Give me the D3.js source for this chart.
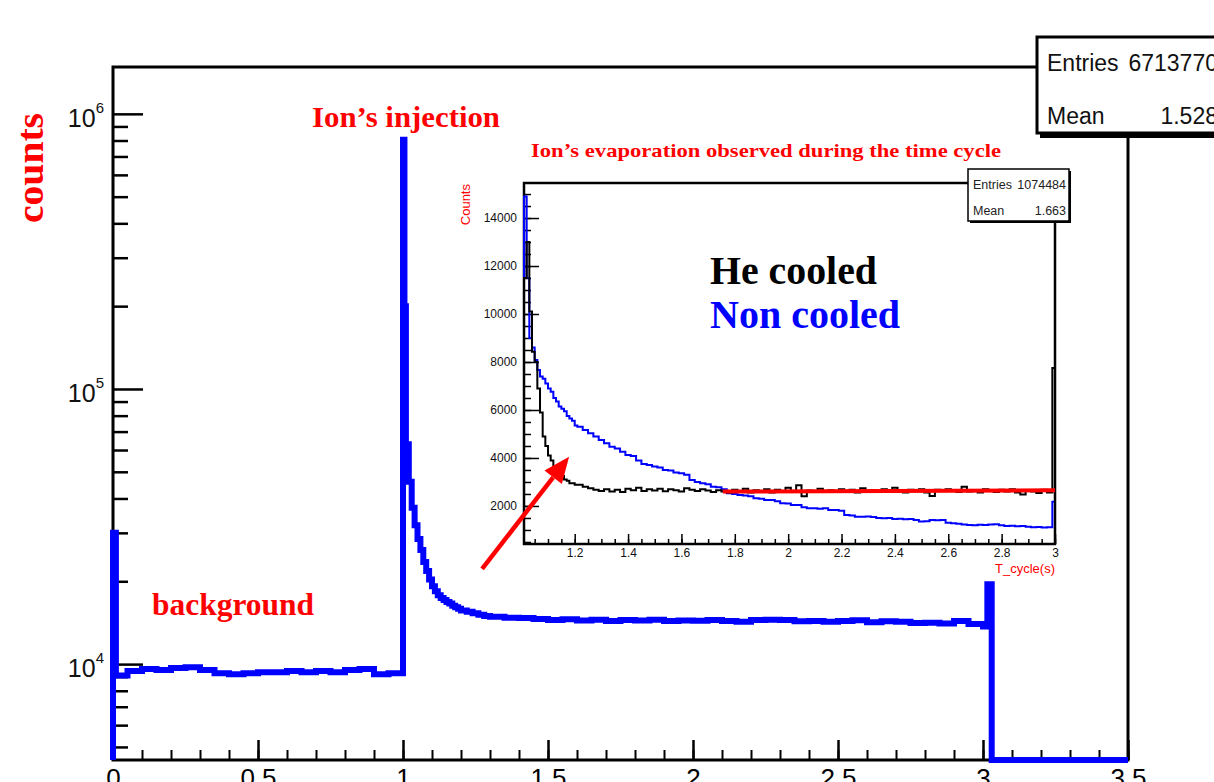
<!DOCTYPE html>
<html>
<head>
<meta charset="utf-8">
<script src="https://cdn.jsdelivr.net/npm/d3@7/dist/d3.min.js"></script>
<style>
  body { margin: 0; background: #fff; }
  text { font-family: "Liberation Sans", Arial, sans-serif; }
  .serif { font-family: "Liberation Serif", "Times New Roman", serif; font-weight: bold; }
</style>
</head>
<body>
<div id="chart"></div>
<script>

// ---- main histogram (counts vs time, log y) : bin low edges + counts ----
const mainEdges = [0, 0.01, 0.05, 0.10, 0.15, 0.20, 0.25, 0.30, 0.35, 0.40, 0.45,
    0.50, 0.55, 0.60, 0.65, 0.70, 0.75, 0.80, 0.85, 0.90, 0.95,
    1.000, 1.005, 1.010, 1.020, 1.030, 1.040, 1.050, 1.060, 1.070, 1.080, 1.090,
    1.100, 1.110, 1.120, 1.130, 1.140, 1.150, 1.160, 1.170, 1.180, 1.190,
    1.20, 1.22, 1.24, 1.26, 1.28,
    1.30, 1.35, 1.40, 1.45, 1.50, 1.55, 1.60, 1.65, 1.70, 1.75, 1.80, 1.85, 1.90, 1.95,
    2.00, 2.05, 2.10, 2.15, 2.20, 2.25, 2.30, 2.35, 2.40, 2.45, 2.50, 2.55, 2.60, 2.65,
    2.70, 2.75, 2.80, 2.85, 2.90, 2.95,
    3.000, 3.015, 3.030, 3.5];
const mainCounts = [30000, 9100, 9430, 9590, 9510, 9670, 9750, 9510, 9270, 9190, 9270,
    9350, 9350, 9430, 9350, 9430, 9350, 9510, 9590, 9190, 9270,
    805000, 200000, 63000, 46000, 37000, 32000, 28500, 26000, 23500, 21800, 20300,
    19200, 18400, 17800, 17400, 17100, 16800, 16600, 16300, 16100, 15900,
    15650, 15500, 15300, 15100, 14950,
    14850, 14750, 14700, 14600, 14450, 14550, 14400, 14500, 14350, 14450, 14400, 14500, 14350, 14400,
    14380, 14450, 14350, 14250, 14450, 14500, 14480, 14300, 14350, 14250, 14350, 14420, 14200, 14300,
    14250, 14100, 14150, 14050, 14350, 14000,
    13700, 19500, 0];

const mainXTicks = [0, 0.5, 1, 1.5, 2, 2.5, 3, 3.5];
const mainYDecades = [1e4, 1e5, 1e6];
const mainYMinor = [5000, 6000, 7000, 8000, 9000, 2e4, 3e4, 4e4, 5e4, 6e4, 7e4, 8e4, 9e4,
    2e5, 3e5, 4e5, 5e5, 6e5, 7e5, 8e5, 9e5];

// ---- inset: He cooled (black) / Non cooled (blue) ----
const insetEdges = [...d3.range(101, 121).map(i => i / 100),
                    ...d3.range(0, 89).map(i => (121 + 2 * i) / 100), 2.99, 3.00];
const heCooled = [11500, 13000, 10100, 8430, 8000, 6900, 5900, 4900, 4500, 4100,
    3900, 3450, 3350, 3280, 3250, 3100, 3050, 2950, 2950, 2880,
    2880, 2800, 2740, 2680, 2620, 2700, 2600, 2680, 2580, 2720,
    2650, 2760, 2620, 2700, 2640, 2720, 2610, 2700, 2660, 2600,
    2740, 2680, 2620, 2700, 2640, 2580, 2660, 2600, 2560, 2680,
    2600, 2720, 2560, 2650, 2600, 2700, 2560, 2680, 2620, 2760,
    2580, 2860, 2400, 2640, 2600, 2720, 2580, 2660, 2600, 2700,
    2620, 2680, 2560, 2740, 2600, 2660, 2580, 2700, 2620, 2760,
    2600, 2560, 2680, 2620, 2700, 2560, 2420, 2680, 2620, 2700,
    2640, 2580, 2800, 2600, 2660, 2560, 2700, 2620, 2580, 2680,
    2600, 2700, 2560, 2480, 2660, 2600, 2540, 2680, 2560,
    7750];
const nonCooled = [14900, 11500, 9000, 8600, 8080, 7670, 7400, 7300, 7100, 6900,
    6760, 6500, 6350, 6150, 6050, 5950, 5750, 5650, 5550, 5350,
    5300, 5170, 5030, 4900, 4750, 4610, 4470, 4400, 4260, 4125,
    4080, 3900, 3750, 3710, 3650, 3600, 3500, 3480, 3400, 3360,
    3300, 3080, 3000, 2945, 2900, 2800, 2780, 2700, 2530, 2500,
    2460, 2440, 2400, 2320, 2300, 2250, 2250, 2200, 2110, 2100,
    2040, 2040, 1950, 1900, 1900, 1880, 1900, 1830, 1830, 1800,
    1625, 1600, 1555, 1555, 1560, 1540, 1500, 1490, 1500, 1460,
    1470, 1450, 1460, 1420, 1350, 1360, 1420, 1400, 1420, 1300,
    1280, 1260, 1230, 1210, 1200, 1220, 1210, 1230, 1240, 1200,
    1170, 1180, 1150, 1170, 1130, 1110, 1120, 1100, 1110,
    2180];
const fitX = [1.755, 3.0];
const fitY = [2600, 2650];
const arrowFrom = [0.853, -620];
const arrowTo = [1.179, 4050];

const insetXMajor = d3.range(6, 16).map(i => i / 5);          // 1.2 .. 3
const insetXMinor = d3.range(21, 61).map(i => i / 20);         // every 0.05
const insetYMajor = [2000, 4000, 6000, 8000, 10000, 12000, 14000];
const insetYMinor = d3.range(1, 31).map(i => i * 500);

// ---------------------------------------------------------------
const W = 1214, H = 782;
const svg = d3.select("#chart").append("svg").attr("width", W).attr("height", H);

const x = d3.scaleLinear().domain([0, 3.5]).range([113, 1128]);
const y = d3.scaleLog().domain([4482, 1.48e6]).range([760, 67]);
const yMin = y.domain()[0];

function histPoints(edges, counts, floor) {
    let pts = [[edges[0], floor]];
    for (let i = 0; i < counts.length; i++) {
        pts.push([edges[i], counts[i]]);
        pts.push([edges[i + 1], counts[i]]);
    }
    pts.push([edges[counts.length], floor]);
    return pts;
}

// frame
svg.append("rect")
   .attr("x", x(0)).attr("y", y.range()[1])
   .attr("width", x(3.5) - x(0)).attr("height", y.range()[0] - y.range()[1])
   .attr("fill", "none").attr("stroke", "black").attr("stroke-width", 3);

// axes
function styleTicks(g, w) {
    g.select(".domain").remove();
    g.selectAll(".tick line").attr("stroke", "black").attr("stroke-width", w);
}
svg.append("g").attr("transform", `translate(${x(0)},0)`)
   .call(d3.axisLeft(y).tickValues(mainYDecades).tickSize(-30).tickFormat(""))
   .call(g => styleTicks(g, 2.5));
svg.append("g").attr("transform", `translate(${x(0)},0)`)
   .call(d3.axisLeft(y).tickValues(mainYMinor).tickSize(-15).tickFormat(""))
   .call(g => styleTicks(g, 2.5));
svg.append("g").attr("transform", `translate(0,${y.range()[0]})`)
   .call(d3.axisBottom(x).tickValues(d3.range(0, 36).map(i => i / 10)).tickSize(-10).tickFormat(""))
   .call(g => styleTicks(g, 2));
svg.append("g").attr("transform", `translate(0,${y.range()[0]})`)
   .call(d3.axisBottom(x).tickValues(mainXTicks).tickSize(-20).tickPadding(9).tickFormat(d3.format("~g")))
   .call(g => styleTicks(g, 2.5))
   .call(g => g.selectAll("text").attr("fill", "black").style("font-size", "26px")
                .style("font-family", "Liberation Sans, Arial, sans-serif"));

// log labels 10^n
mainYDecades.forEach(v => {
    let t = svg.append("text").attr("x", 104).attr("y", y(v) + 13)
               .attr("text-anchor", "end").style("font-size", "25px").attr("fill", "#111");
    t.append("tspan").text("10");
    t.append("tspan").text(Math.round(Math.log10(v))).attr("dy", -14).style("font-size", "15px");
});

// main histogram
const mainLine = d3.line().x(d => x(d[0])).y(d => y(Math.max(d[1], yMin)));
svg.append("path")
   .attr("d", mainLine(histPoints(mainEdges, mainCounts, yMin)))
   .attr("fill", "none").attr("stroke", "#0000ff").attr("stroke-width", 6)
   .attr("stroke-linejoin", "miter");

// main stats box
svg.append("rect").attr("x", 1040).attr("y", 40).attr("width", 200).attr("height", 98).attr("fill", "black");
svg.append("rect").attr("x", 1037).attr("y", 37).attr("width", 200).attr("height", 96)
   .attr("fill", "white").attr("stroke", "black").attr("stroke-width", 3);
svg.append("text").attr("x", 1047).attr("y", 71).style("font-size", "23px").attr("fill", "#111").text("Entries");
svg.append("text").attr("x", 1218).attr("y", 71).attr("text-anchor", "end").style("font-size", "23px").attr("fill", "#111").text("6713770");
svg.append("text").attr("x", 1047).attr("y", 124).style("font-size", "23px").attr("fill", "#111").text("Mean");
svg.append("text").attr("x", 1218).attr("y", 124).attr("text-anchor", "end").style("font-size", "23px").attr("fill", "#111").text("1.528");

// ---- inset ----
const xi = d3.scaleLinear().domain([1.01, 3.0]).range([524, 1055]);
const yi = d3.scaleLinear().domain([415, 15460]).range([544, 183]);

svg.append("rect")
   .attr("x", xi.range()[0]).attr("y", yi.range()[1])
   .attr("width", xi.range()[1] - xi.range()[0]).attr("height", yi.range()[0] - yi.range()[1])
   .attr("fill", "white").attr("stroke", "black").attr("stroke-width", 2.5);

svg.append("g").attr("transform", `translate(${xi.range()[0]},0)`)
   .call(d3.axisLeft(yi).tickValues(insetYMinor).tickSize(-7).tickFormat(""))
   .call(g => styleTicks(g, 1.5));
svg.append("g").attr("transform", `translate(${xi.range()[0]},0)`)
   .call(d3.axisLeft(yi).tickValues(insetYMajor).tickSize(-15).tickPadding(7).tickFormat(d3.format("d")))
   .call(g => styleTicks(g, 1.5))
   .call(g => g.selectAll("text").attr("fill", "#111").style("font-size", "12px")
                .style("font-family", "Liberation Sans, Arial, sans-serif"));
svg.append("g").attr("transform", `translate(0,${yi.range()[0]})`)
   .call(d3.axisBottom(xi).tickValues(insetXMinor).tickSize(-5).tickFormat(""))
   .call(g => styleTicks(g, 1.5));
svg.append("g").attr("transform", `translate(0,${yi.range()[0]})`)
   .call(d3.axisBottom(xi).tickValues(insetXMajor).tickSize(-10).tickPadding(4).tickFormat(d3.format("~g")))
   .call(g => styleTicks(g, 1.5))
   .call(g => g.selectAll("text").attr("fill", "#111").style("font-size", "12px")
                .style("font-family", "Liberation Sans, Arial, sans-serif"));

const insetLine = d3.line().x(d => xi(d[0])).y(d => yi(Math.max(d[1], yi.domain()[0])));
svg.append("path").attr("d", insetLine(histPoints(insetEdges, nonCooled, 415)))
   .attr("fill", "none").attr("stroke", "#0000ff").attr("stroke-width", 2);
svg.append("path").attr("d", insetLine(histPoints(insetEdges, heCooled, 415)))
   .attr("fill", "none").attr("stroke", "black").attr("stroke-width", 2);
svg.append("path").attr("d", insetLine(fitX.map((v, i) => [v, fitY[i]])))
   .attr("fill", "none").attr("stroke", "#ff0000").attr("stroke-width", 4);

// inset stats box
svg.append("rect").attr("x", 970).attr("y", 171).attr("width", 101).attr("height", 52).attr("fill", "black");
svg.append("rect").attr("x", 968).attr("y", 169).attr("width", 101).attr("height", 52)
   .attr("fill", "white").attr("stroke", "black").attr("stroke-width", 1.5);
svg.append("text").attr("x", 973).attr("y", 189).style("font-size", "12.5px").attr("fill", "#222").text("Entries");
svg.append("text").attr("x", 1066).attr("y", 189).attr("text-anchor", "end").style("font-size", "12.5px").attr("fill", "#222").text("1074484");
svg.append("text").attr("x", 973).attr("y", 215).style("font-size", "12.5px").attr("fill", "#222").text("Mean");
svg.append("text").attr("x", 1066).attr("y", 215).attr("text-anchor", "end").style("font-size", "12.5px").attr("fill", "#222").text("1.663");

// inset axis titles
svg.append("text").attr("transform", "translate(470,184) rotate(-90)")
   .attr("text-anchor", "end").style("font-size", "13px").attr("fill", "#ff0000").text("Counts");
svg.append("text").attr("x", 1055).attr("y", 573).attr("text-anchor", "end")
   .style("font-size", "13px").attr("fill", "#ff0000").text("T_cycle(s)");

// arrow
const ax0 = xi(arrowFrom[0]), ay0 = yi(arrowFrom[1]);
const ax1 = xi(arrowTo[0]), ay1 = yi(arrowTo[1]);
const ang = Math.atan2(ay1 - ay0, ax1 - ax0);
const headLen = 26, headHalf = 11;
const bx = ax1 - headLen * Math.cos(ang), by = ay1 - headLen * Math.sin(ang);
svg.append("line").attr("x1", ax0).attr("y1", ay0).attr("x2", bx).attr("y2", by)
   .attr("stroke", "#ff0000").attr("stroke-width", 4.5);
svg.append("polygon")
   .attr("points", [[ax1, ay1],
                    [bx + headHalf * Math.sin(ang), by - headHalf * Math.cos(ang)],
                    [bx - headHalf * Math.sin(ang), by + headHalf * Math.cos(ang)]].map(p => p.join(",")).join(" "))
   .attr("fill", "#ff0000");

// annotations
function note(txt, px, py, size, len, color) {
    return svg.append("text").attr("class", "serif").attr("x", px).attr("y", py)
              .style("font-size", size + "px").attr("fill", color)
              .attr("textLength", len).attr("lengthAdjust", "spacingAndGlyphs").text(txt);
}
note("Ion\u2019s injection", 312, 127, 29, 188, "#ff0000");
note("Ion\u2019s evaporation observed during the time cycle", 531, 157, 19, 470, "#ff0000");
note("background", 152, 615, 31, 162, "#ff0000");
note("He cooled", 710, 284, 39, 167, "black");
note("Non cooled", 710, 328, 39, 190, "#0000ff");
svg.append("text").attr("class", "serif").attr("transform", "translate(43,223) rotate(-90)")
   .style("font-size", "38px").attr("fill", "#ff0000")
   .attr("textLength", 110).attr("lengthAdjust", "spacingAndGlyphs").text("counts");

</script>
</body>
</html>
